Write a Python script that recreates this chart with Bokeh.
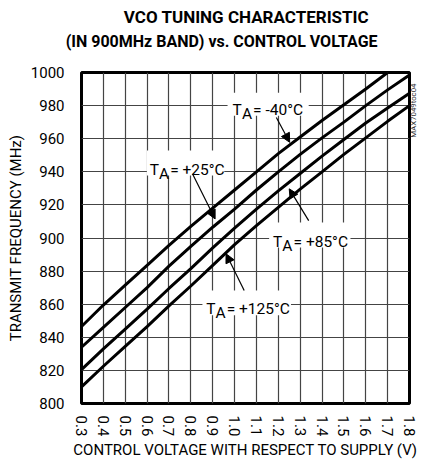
import numpy as np
from bokeh.plotting import figure
from bokeh.models import (FixedTicker, NumeralTickFormatter, Label, Arrow, NormalHead,
                          BoxAnnotation, LinearAxis)
from bokeh.embed import file_html
from bokeh.resources import INLINE

# ---------------- data ----------------
VOLTS = [0.3, 0.4, 0.5, 0.6, 0.7, 0.8, 0.9, 1.0, 1.1, 1.2, 1.3, 1.4, 1.5, 1.6, 1.7, 1.8]
FREQ_M40 = [846.5, 859.5, 871.5, 883.5, 895.5, 907.0, 918.0, 929.0, 940.0, 951.0, 961.0, 971.0, 980.5, 990.0, 1000.0]
FREQ_P25 = [834.0, 846.0, 858.0, 870.0, 883.0, 895.0, 906.5, 917.5, 929.0, 940.0, 950.5, 960.5, 970.0, 980.0, 989.5, 998.5]
FREQ_P85 = [820.5, 833.0, 845.0, 857.0, 869.5, 881.5, 894.0, 906.0, 917.5, 928.5, 939.0, 949.5, 959.5, 969.5, 978.5, 987.5]
FREQ_P125 = [810.0, 822.5, 834.5, 846.5, 859.0, 871.0, 883.5, 896.0, 907.5, 918.5, 929.5, 940.0, 950.5, 960.5, 970.5, 980.0]

X_TICKS = [0.3, 0.4, 0.5, 0.6, 0.7, 0.8, 0.9, 1.0, 1.1, 1.2, 1.3, 1.4, 1.5, 1.6, 1.7, 1.8]
Y_TICKS = [800, 820, 840, 860, 880, 900, 920, 940, 960, 980, 1000]

TITLE_1 = "VCO TUNING CHARACTERISTIC"
TITLE_2 = "(IN 900MHz BAND) vs. CONTROL VOLTAGE"
X_LABEL = "CONTROL VOLTAGE WITH RESPECT TO SUPPLY (V)"
Y_LABEL = "TRANSMIT FREQUENCY (MHz)"
TOC = "MAX7049toc04"
TEMP_TEXT = [" = -40°C", " = +25°C", " = +85°C", " = +125°C"]

FONT = "Roboto"

p = figure(width=425, height=464, x_range=(0.3, 1.8), y_range=(800, 1000),
           output_backend="svg", toolbar_location=None,
           min_border_left=81, min_border_right=14, min_border_top=72, min_border_bottom=61)
p.background_fill_color = "white"
p.border_fill_color = "white"
p.outline_line_color = "black"
p.outline_line_width = 3

p.xaxis.ticker = FixedTicker(ticks=X_TICKS)
p.yaxis.ticker = FixedTicker(ticks=Y_TICKS)
p.xaxis.formatter = NumeralTickFormatter(format="0.0")
p.xaxis.major_label_orientation = "vertical"


def plain_axis(ax, size, color="black", style="normal"):
    ax.axis_line_color = None
    ax.major_tick_line_color = None
    ax.minor_tick_line_color = None
    ax.major_tick_out = 0
    ax.major_tick_in = 0
    ax.major_label_text_font = FONT
    ax.major_label_text_font_size = size
    ax.major_label_text_font_style = style
    ax.major_label_text_color = color


for ax in p.axis:
    plain_axis(ax, "15px")
    ax.axis_label_text_font = FONT
    ax.axis_label_text_font_size = "15px"
    ax.axis_label_text_font_style = "normal"
    ax.axis_label_text_color = "black"
p.xaxis.major_label_standoff = 12
p.xaxis.axis_label_standoff = 2
p.yaxis.major_label_standoff = 17
p.yaxis.axis_label_standoff = 3
p.xaxis.axis_label = X_LABEL
p.yaxis.axis_label = Y_LABEL

p.grid.grid_line_color = "#444444"
p.grid.grid_line_width = 1.2

series = [FREQ_M40, FREQ_P25, FREQ_P85, FREQ_P125]
for ys in series:
    p.line(VOLTS[:len(ys)], ys, line_width=3, line_color="black")

# ---------------- callouts ----------------
BOXES = [(0.968, 1.339, 973.9, 987.8),
         (0.599, 0.953, 937.7, 952.8),
         (1.158, 1.530, 894.2, 909.3),
         (0.853, 1.258, 853.3, 868.3)]
ANCHORS = [(0.991, 977.3), (0.612, 941.1), (1.176, 897.5), (0.870, 857.3)]
ARROWS = [((1.191, 972.8), (1.252, 957.8)),
          ((0.808, 938.7), (0.911, 911.5)),
          ((1.339, 910.5), (1.250, 929.7)),
          ((1.044, 868.3), (0.961, 890.5))]

for (l, r, b, t) in BOXES:
    p.add_layout(BoxAnnotation(left=l, right=r, bottom=b, top=t, fill_color="white",
                               fill_alpha=1.0, line_color=None))
for (s, e) in ARROWS:
    p.add_layout(Arrow(end=NormalHead(size=9, fill_color="black", line_color="black", line_width=1),
                       x_start=s[0], y_start=s[1], x_end=e[0], y_end=e[1],
                       line_color="black", line_width=1.2))
for (ax_, ay_), rest in zip(ANCHORS, TEMP_TEXT):
    common = dict(text_font=FONT, text_font_size="15.5px", text_color="black",
                  text_align="left", text_baseline="alphabetic")
    p.add_layout(Label(x=ax_, y=ay_, text="T", **common))
    p.add_layout(Label(x=ax_, y=ay_, x_offset=9.3, y_offset=-4, text="A", **common))
    p.add_layout(Label(x=ax_, y=ay_, x_offset=20.5, text=rest, **common))

# ---------------- two-line title (as labels of bare axes above the frame) ----------------
T2_POS, T1_POS = 0.941, 1.0545
title2 = LinearAxis(ticker=FixedTicker(ticks=[T2_POS]), major_label_overrides={T2_POS: TITLE_2})
plain_axis(title2, "16px", style="bold")
title2.major_label_standoff = 22
p.add_layout(title2, "above")
title1 = LinearAxis(ticker=FixedTicker(ticks=[T1_POS]), major_label_overrides={T1_POS: TITLE_1})
plain_axis(title1, "17px", style="bold")
title1.major_label_standoff = 2
p.add_layout(title1, "above")

# ---------------- credit on the right edge ----------------
TOC_POS = 960.6
toc_axis = LinearAxis(ticker=FixedTicker(ticks=[TOC_POS]), major_label_overrides={TOC_POS: TOC},
                      major_label_orientation=np.pi / 2)
plain_axis(toc_axis, "7.8px", color="#333333")
toc_axis.major_label_standoff = 4
p.add_layout(toc_axis, "right")

open("out.html", "w").write(file_html(p, INLINE))
